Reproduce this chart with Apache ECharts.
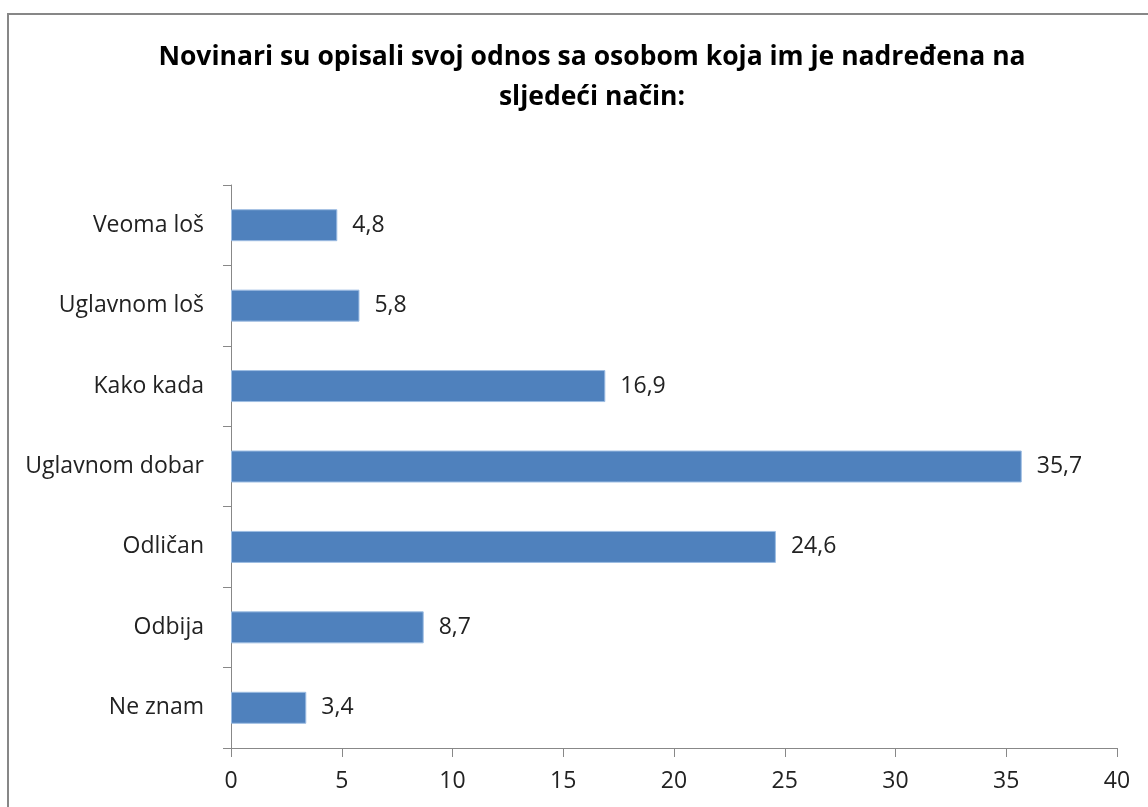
<!DOCTYPE html>
<html><head><meta charset="utf-8">
<script src="https://cdn.jsdelivr.net/npm/echarts@6/dist/echarts.min.js"></script>
<style>html,body{margin:0;padding:0;background:#fff}#c{width:1148px;height:807px}</style>
</head><body><div id="c"></div>
<script>
const categories = ['Veoma loš','Uglavnom loš','Kako kada','Uglavnom dobar','Odličan','Odbija','Ne znam'];
const values = [4.8, 5.8, 16.9, 35.7, 24.6, 8.7, 3.4];
const titleText = 'Novinari su opisali svoj odnos sa osobom koja im je nadređena na\nsljedeći način:';
const font = '"Open Sans", "Noto Sans", sans-serif';
const chart = echarts.init(document.getElementById('c'));
chart.setOption({
  animation: false,
  graphic: [{type:'rect', shape:{x:8,y:14,width:1300,height:1000}, style:{fill:'none', stroke:'#878787', lineWidth:2}, silent:true}],
  title: {text: titleText, left: 587, textAlign: 'center', top: 32,
    textStyle: {fontFamily: font, fontWeight: 'bold', fontSize: 26.5, color: '#000', lineHeight: 40}},
  grid: {left: 231, right: 31, top: 185, bottom: 59},
  xAxis: {type:'value', min:0, max:40, interval:5,
    axisLine:{show:true, lineStyle:{color:'#888'}},
    axisTick:{show:true, length:9, lineStyle:{color:'#888'}},
    splitLine:{show:false},
    axisLabel:{fontFamily:font, fontSize:23, color:'#222', margin:22}},
  yAxis: {type:'category', data: categories, inverse:true,
    axisLine:{show:true, lineStyle:{color:'#888'}},
    axisTick:{show:true, length:8, lineStyle:{color:'#888'}},
    axisLabel:{fontFamily:font, fontSize:23, color:'#222', margin:27}},
  series: [{type:'bar', data: values, barWidth: 32,
    itemStyle:{color:'#4F81BD', borderColor:'#9dbde3', borderWidth:1},
    label:{show:true, position:'right', distance:15, fontFamily:font, fontSize:23, color:'#222',
      formatter: p => String(p.value).replace('.', ',')}}]
});
</script></body></html>
